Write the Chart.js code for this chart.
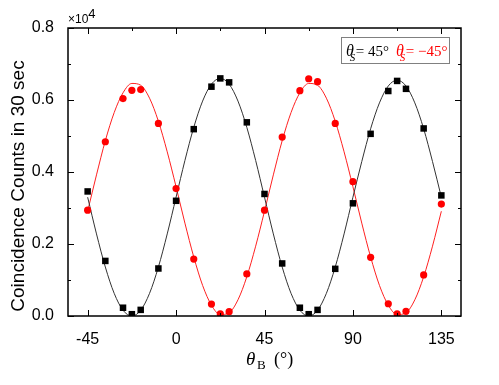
<!DOCTYPE html>
<html>
<head>
<meta charset="utf-8">
<script src="https://cdn.jsdelivr.net/npm/chart.js@4"></script>
<style>
	html, body { margin: 0; padding: 0; background: #fff; }
	canvas { display: block; }
</style>
</head>
<body>
<canvas id="chart" width="499" height="385"></canvas>
<script>
// measured angles (deg) of theta_B
const angles = [-45, -36, -27, -22.5, -18, -9, 0, 9, 18, 22.5, 27, 36, 45, 54, 63, 67.5, 72, 81, 90, 99, 108, 112.5, 117, 126, 135];
// coincidence counts (x10^4) for theta_S = 45 and -45
const counts_plus = [0.346, 0.153, 0.023, 0.005, 0.017, 0.132, 0.320, 0.519, 0.637, 0.660, 0.649, 0.538, 0.339, 0.146, 0.023, 0.005, 0.017, 0.131, 0.313, 0.506, 0.625, 0.653, 0.631, 0.521, 0.335];
const counts_minus = [0.294, 0.484, 0.604, 0.627, 0.629, 0.535, 0.354, 0.158, 0.033, 0.006, 0.012, 0.117, 0.294, 0.497, 0.626, 0.659, 0.651, 0.535, 0.373, 0.163, 0.034, 0.006, 0.013, 0.114, 0.311];
// fitted curves
const fit_angles = [-45, -40.5, -36, -31.5, -27, -22.5, -18, -13.5, -9, -4.5, 0, 4.5, 9, 13.5, 18, 22.5, 27, 31.5, 36, 40.5, 45, 49.5, 54, 58.5, 63, 67.5, 72, 76.5, 81, 85.5, 90, 94.5, 99, 103.5, 108, 112.5, 117, 121.5, 126, 130.5, 135];
const fit_plus = [0.330, 0.228, 0.136, 0.063, 0.016, 0.000, 0.016, 0.063, 0.136, 0.228, 0.330, 0.432, 0.524, 0.597, 0.644, 0.660, 0.644, 0.597, 0.524, 0.432, 0.330, 0.228, 0.136, 0.063, 0.016, 0.000, 0.016, 0.063, 0.136, 0.228, 0.330, 0.429, 0.520, 0.592, 0.639, 0.655, 0.639, 0.592, 0.520, 0.429, 0.330];
const fit_minus = [0.291, 0.392, 0.487, 0.565, 0.620, 0.646, 0.641, 0.605, 0.541, 0.456, 0.359, 0.258, 0.164, 0.085, 0.030, 0.004, 0.009, 0.045, 0.109, 0.194, 0.291, 0.392, 0.487, 0.565, 0.620, 0.646, 0.641, 0.605, 0.541, 0.456, 0.359, 0.258, 0.164, 0.085, 0.030, 0.004, 0.009, 0.045, 0.109, 0.194, 0.291];
const x_ticks = [-45, 0, 45, 90, 135];
const y_ticks = [0, 0.2, 0.4, 0.6, 0.8];

const sans = '"Liberation Sans", Arial, sans-serif';
const serif = '"Liberation Serif", "DejaVu Serif", serif';

function pairs(xs, ys) {
	return xs.map((x, i) => ({ x: x, y: ys[i] }));
}

function minors(ticks) {
	let out = [];
	for (let i = 0; i < ticks.length - 1; i ++) {
		out.push((ticks[i] + ticks[i + 1]) / 2);
	}
	return out;
}

const frame_plugin = {
	id: 'frame',
	afterDraw(chart) {
		let ctx = chart.ctx,
				a = chart.chartArea,
				xs = chart.scales.x,
				ys = chart.scales.y;
		ctx.save();
		ctx.strokeStyle = '#000';
		ctx.lineWidth = 1;
		// ticks, all pointing inwards, on all four sides
		function xtick(v, len) {
			let p = Math.round(xs.getPixelForValue(v)) + 0.5;
			ctx.beginPath();
			ctx.moveTo(p, a.bottom); ctx.lineTo(p, a.bottom - len);
			ctx.moveTo(p, a.top); ctx.lineTo(p, a.top + len);
			ctx.stroke();
		}
		function ytick(v, len) {
			let p = Math.round(ys.getPixelForValue(v)) + 0.5;
			ctx.beginPath();
			ctx.moveTo(a.left, p); ctx.lineTo(a.left + len, p);
			ctx.moveTo(a.right, p); ctx.lineTo(a.right - len, p);
			ctx.stroke();
		}
		x_ticks.forEach(v => xtick(v, 6));
		minors(x_ticks).forEach(v => xtick(v, 3));
		y_ticks.forEach(v => ytick(v, 6));
		minors(y_ticks).forEach(v => ytick(v, 3));
		ctx.lineWidth = 1.5;
		ctx.strokeRect(a.left, a.top, a.right - a.left, a.bottom - a.top);

		// multiplier
		ctx.fillStyle = '#000';
		ctx.textBaseline = 'alphabetic';
		ctx.textAlign = 'left';
		ctx.font = '12px ' + sans;
		ctx.fillText('\u00d710', a.left, 23);
		let w = ctx.measureText('\u00d710').width;
		ctx.font = '13px ' + sans;
		ctx.fillText('4', a.left + w, 18);

		// y title
		ctx.save();
		ctx.translate(24, 186);
		ctx.rotate(-Math.PI / 2);
		ctx.textAlign = 'center';
		ctx.font = '19px ' + sans;
		ctx.fillText('Coincidence Counts in 30 sec', 0, 0);
		ctx.restore();

		// x title
		ctx.font = 'italic 19px ' + serif;
		ctx.fillText('\u03b8', 246, 365);
		ctx.font = '13px ' + serif;
		ctx.fillText('B', 257, 369);
		ctx.font = '18px ' + serif;
		ctx.fillText('(\u00b0)', 274, 365);

		// legend box
		ctx.lineWidth = 1;
		ctx.strokeStyle = '#808080';
		ctx.strokeRect(341.5, 37.5, 108, 26);
		function label(x, color, text) {
			ctx.fillStyle = color;
			ctx.font = 'italic 16px ' + serif;
			ctx.fillText('\u03b8', x, 56);
			let tw = ctx.measureText('\u03b8').width;
			ctx.font = 'italic 11px ' + serif;
			ctx.fillText('S', x + tw - 4, 61);
			ctx.font = '15px ' + serif;
			ctx.fillText(text, x + tw + 2, 56);
		}
		label(346, '#000', '= 45\u00b0');
		label(396, '#ff0000', '= \u221245\u00b0');
		ctx.restore();
	}
};

function load_chart() {
	const data = {
		datasets: [
			{
				data: pairs(angles, counts_plus),
				pointStyle: 'rect',
				pointRadius: 4.6,
				backgroundColor: '#000',
				borderColor: '#000',
				borderWidth: 0,
				showLine: false
			},
			{
				data: pairs(angles, counts_minus),
				pointStyle: 'circle',
				pointRadius: 3.6,
				backgroundColor: '#ff0000',
				borderColor: '#ff0000',
				borderWidth: 0,
				showLine: false
			},
			{
				data: pairs(fit_angles, fit_plus),
				showLine: true,
				pointRadius: 0,
				borderColor: '#333',
				borderWidth: 1,
				cubicInterpolationMode: 'monotone'
			},
			{
				data: pairs(fit_angles, fit_minus),
				showLine: true,
				pointRadius: 0,
				borderColor: '#ff2020',
				borderWidth: 1,
				cubicInterpolationMode: 'monotone'
			}
		]
	};
	const config = {
		type: 'scatter',
		data: data,
		options: {
			responsive: false,
			animation: false,
			devicePixelRatio: 1,
			layout: {
				padding: { top: 28, right: 38, left: 0, bottom: 0 }
			},
			plugins: {
				legend: { display: false },
				tooltip: { enabled: false }
			},
			scales: {
				x: {
					type: 'linear',
					min: -55,
					max: 145,
					grid: { display: false },
					border: { display: false },
					afterBuildTicks: scale => { scale.ticks = x_ticks.map(v => ({ value: v })); },
					afterFit: scale => { scale.height = 69; },
					ticks: {
						color: '#000',
						padding: 6,
						maxRotation: 0,
						font: { family: sans, size: 16 },
						callback: v => String(v)
					}
				},
				y: {
					type: 'linear',
					min: 0,
					max: 0.8,
					grid: { display: false },
					border: { display: false },
					afterBuildTicks: scale => { scale.ticks = y_ticks.map(v => ({ value: v })); },
					afterFit: scale => { scale.width = 68; },
					ticks: {
						color: '#000',
						padding: 6,
						font: { family: sans, size: 16 },
						callback: v => v.toFixed(1)
					}
				}
			}
		},
		plugins: [frame_plugin]
	};
	new Chart(document.getElementById('chart'), config);
}

load_chart();
</script>
</body>
</html>
